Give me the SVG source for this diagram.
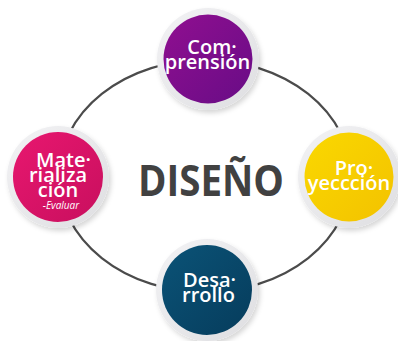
<svg xmlns="http://www.w3.org/2000/svg" width="398" height="341" viewBox="0 0 398 341">
<defs>
<linearGradient id="gRing" x1="0" y1="0" x2="1" y2="1">
<stop offset="0" stop-color="#f3f3f5"/><stop offset="1" stop-color="#dedee1"/>
</linearGradient>
<linearGradient id="gPur" x1="0" y1="0" x2="1" y2="1">
<stop offset="0" stop-color="#900f90"/><stop offset="1" stop-color="#680c86"/>
</linearGradient>
<linearGradient id="gPink" x1="0" y1="0" x2="1" y2="1">
<stop offset="0" stop-color="#e8176f"/><stop offset="1" stop-color="#c80f5e"/>
</linearGradient>
<linearGradient id="gYel" x1="0" y1="0" x2="1" y2="1">
<stop offset="0" stop-color="#fad800"/><stop offset="1" stop-color="#f3c200"/>
</linearGradient>
<linearGradient id="gNavy" x1="0" y1="0" x2="1" y2="1">
<stop offset="0" stop-color="#0b5377"/><stop offset="1" stop-color="#063c5c"/>
</linearGradient>
<filter id="sh" x="-20%" y="-20%" width="150%" height="150%">
<feDropShadow dx="2" dy="3" stdDeviation="2.5" flood-color="#000" flood-opacity="0.16"/>
</filter>
</defs>
<style>
.conn{fill:none;stroke:#4b4b4b;stroke-width:2.2}
.ring{fill:url(#gRing);filter:url(#sh)}
.lbl{font-family:"Open Sans","Liberation Sans",sans-serif;font-weight:600;font-size:20px;fill:#fff}
.sub{font-style:italic;font-weight:400;font-size:10px}
.title{font-family:"Open Sans","Liberation Sans",sans-serif;font-weight:700;font-size:43px;fill:#414141}
</style>
<rect width="398" height="341" fill="#fff"/>
<g id="connectors">
<path class="conn" d="M205,60 A146,116 0 0 0 59,176"/>
<path class="conn" d="M59,176 A146,116 0 0 0 205,292"/>
<path class="conn" d="M205,292 A146,116 0 0 0 351,176"/>
<path class="conn" d="M351,176 A146,116 0 0 0 205,60"/>
</g>
<text class="title" x="138" y="196" textLength="146" lengthAdjust="spacingAndGlyphs">DISEÑO</text>
<g id="comprension">
<circle class="ring" cx="208" cy="59" r="51"/>
<circle cx="208" cy="59" r="44.5" fill="url(#gPur)"/>
<text class="lbl" text-anchor="middle"><tspan x="212" y="54">Com·</tspan><tspan x="207.5" y="69">prensión</tspan></text>
</g>
<g id="materializacion">
<circle class="ring" cx="58" cy="177" r="51"/>
<circle cx="58" cy="177" r="45" fill="url(#gPink)"/>
<text class="lbl" text-anchor="middle"><tspan x="63.5" y="167">Mate·</tspan><tspan x="58" y="182">rializa</tspan><tspan x="58" y="197">ción</tspan><tspan class="sub" x="61" y="209">-Evaluar</tspan></text>
</g>
<g id="proyeccion">
<circle class="ring" cx="349" cy="177" r="51"/>
<circle cx="349" cy="177" r="44.5" fill="url(#gYel)"/>
<text class="lbl" text-anchor="middle"><tspan x="354" y="175">Pro·</tspan><tspan x="349" y="190">yeccción</tspan></text>
</g>
<g id="desarrollo">
<circle class="ring" cx="207" cy="290" r="51"/>
<circle cx="207" cy="290" r="45" fill="url(#gNavy)"/>
<text class="lbl"><tspan x="183" y="287">Desa·</tspan><tspan x="182" y="302">rrollo</tspan></text>
</g>
</svg>
